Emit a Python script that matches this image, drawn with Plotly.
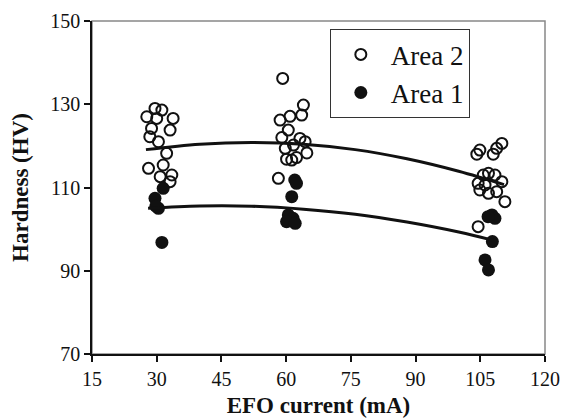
import plotly.graph_objects as go

# Area 2 (open circles)
area2_x = [29.6, 31.2, 27.7, 30.0, 33.8, 28.8, 33.1, 28.4, 30.4, 32.3, 31.5, 28.1, 30.8, 33.5, 33.1,
           59.2, 64.0, 60.9, 63.6, 58.6, 60.5, 59.0, 63.2, 64.4, 61.7, 59.8, 64.8, 60.1, 61.3, 62.4, 58.2,
           104.9, 104.2, 110.0, 108.8, 108.0, 105.7, 106.9, 108.4, 110.0, 104.5, 106.1, 104.9, 106.9, 108.8, 110.7, 104.5]
area2_y = [129.0, 128.6, 127.0, 126.6, 126.6, 124.2, 123.8, 122.2, 121.0, 118.2, 115.4, 114.6, 112.6, 113.0, 111.4,
           136.2, 129.8, 127.1, 127.4, 126.2, 123.8, 122.0, 121.8, 121.0, 120.2, 119.4, 118.3, 116.8, 116.6, 117.2, 112.2,
           119.0, 118.0, 120.6, 119.4, 118.0, 113.0, 113.4, 113.0, 111.4, 111.0, 110.6, 109.4, 108.6, 109.0, 106.6, 100.6]

# Area 1 (filled circles)
area1_x = [31.5, 29.6, 30.4, 29.8, 31.2,
           62.0, 62.4, 61.3, 60.5, 61.6, 60.1, 62.1,
           107.7, 108.4, 106.8, 107.8, 106.1, 106.9]
area1_y = [109.8, 107.4, 105.0, 105.5, 96.8,
           111.8, 111.0, 107.8, 103.4, 102.6, 101.8, 101.4,
           103.4, 102.6, 103.0, 97.0, 92.6, 90.2]

# Trend lines
trend2_x = [27.5, 40, 52, 64, 76, 88, 100, 110.5]
trend2_y = [119.1, 120.4, 120.8, 120.4, 119.1, 116.9, 113.9, 110.7]
trend1_x = [28, 40, 52, 64, 76, 88, 100, 108]
trend1_y = [105.0, 105.55, 105.5, 104.8, 103.6, 101.7, 99.3, 97.3]

x_ticks = [15, 30, 45, 60, 75, 90, 105, 120]
y_ticks = [70, 90, 110, 130, 150]

serif = "Liberation Serif, Times New Roman, serif"

fig = go.Figure()
fig.add_trace(go.Scatter(x=area2_x, y=area2_y, mode="markers", name="Area 2",
                         marker=dict(symbol="circle-open", size=11, color="#111",
                                     line=dict(width=2, color="#111"))))
fig.add_trace(go.Scatter(x=area1_x, y=area1_y, mode="markers", name="Area 1",
                         marker=dict(symbol="circle", size=13, color="#111")))
fig.add_trace(go.Scatter(x=trend2_x, y=trend2_y, mode="lines", line=dict(color="#111", width=3, shape="spline"),
                         showlegend=False, hoverinfo="skip"))
fig.add_trace(go.Scatter(x=trend1_x, y=trend1_y, mode="lines", line=dict(color="#111", width=3, shape="spline"),
                         showlegend=False, hoverinfo="skip"))

fig.add_shape(type="rect", xref="paper", yref="paper", x0=0, y0=0, x1=1, y1=1,
              line=dict(color="#888", width=1.5), layer="below")

# the page body adds an 8px margin, so the figure is 8px smaller than the window
fig.update_layout(
    width=562, height=410,
    margin=dict(l=84, r=25, t=13, b=64, autoexpand=False),
    paper_bgcolor="white", plot_bgcolor="white",
    font=dict(family=serif, color="#111", size=20),
    showlegend=True,
    legend=dict(x=0.525, y=0.975, xanchor="left", yanchor="top",
                bgcolor="white", bordercolor="#333", borderwidth=1,
                font=dict(family=serif, size=27, color="#111"),
                itemwidth=50, tracegroupgap=0),
    xaxis=dict(range=[15, 120], tickvals=x_ticks, ticks="outside", ticklen=6, tickwidth=1.5,
               tickcolor="#111", showline=True, linecolor="#111", linewidth=1.5,
               showgrid=False, zeroline=False, tickfont=dict(size=20), automargin=False,
               title=dict(text="<b>EFO current (mA)</b>", font=dict(size=23), standoff=12)),
    yaxis=dict(range=[70, 150], tickvals=y_ticks, ticks="outside", ticklen=6, tickwidth=1.5,
               tickcolor="#111", showline=True, linecolor="#111", linewidth=1.5,
               showgrid=False, zeroline=False, tickfont=dict(size=20), automargin=False,
               title=dict(text="<b>Hardness (HV)</b>", font=dict(size=23), standoff=18)),
)

fig.write_html("out.html")
